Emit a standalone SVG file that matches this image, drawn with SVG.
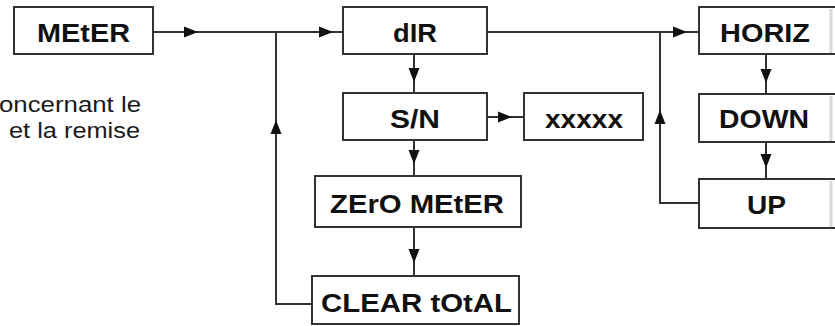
<svg xmlns="http://www.w3.org/2000/svg" xmlns:xlink="http://www.w3.org/1999/xlink" width="835" height="326" viewBox="0 0 835 326">
<style>
.box{fill:#fff;stroke:#333;stroke-width:2}
.lbl{font-family:"Liberation Sans",Arial,sans-serif;font-weight:bold;font-size:26px;fill:#111}
.side{font-family:"Liberation Sans",Arial,sans-serif;font-size:22px;fill:#1a1a1a}
.ln{fill:none;stroke:#333;stroke-width:2}
.ah{fill:#111}
.edge{stroke:#d8d8d8;stroke-width:3}
</style>
<defs>
<path id="ah" d="M0,0 L-14,-5.5 L-14,5.5 Z"/>
</defs>
<rect width="835" height="326" fill="#fff"/>
<text class="side" x="-1" y="112" textLength="142" lengthAdjust="spacingAndGlyphs">oncernant le</text>
<text class="side" x="9" y="138" textLength="131" lengthAdjust="spacingAndGlyphs">et la remise</text>
<g id="connectors">
<path class="ln" d="M153,32 H343"/>
<path class="ln" d="M312,304 H276 V32"/>
<path class="ln" d="M414,54 V93"/>
<path class="ln" d="M487,117 H524"/>
<path class="ln" d="M414,140 V176"/>
<path class="ln" d="M414,227 V276"/>
<path class="ln" d="M487,32 H699"/>
<path class="ln" d="M699,203 H660 V32"/>
<path class="ln" d="M766,54 V94"/>
<path class="ln" d="M766,142 V179"/>
<use class="ah" xlink:href="#ah" transform="translate(198,32)"/>
<use class="ah" xlink:href="#ah" transform="translate(333,32)"/>
<use class="ah" xlink:href="#ah" transform="translate(276,120) rotate(-90)"/>
<use class="ah" xlink:href="#ah" transform="translate(414,82) rotate(90)"/>
<use class="ah" xlink:href="#ah" transform="translate(512,117)"/>
<use class="ah" xlink:href="#ah" transform="translate(414,164) rotate(90)"/>
<use class="ah" xlink:href="#ah" transform="translate(414,263) rotate(90)"/>
<use class="ah" xlink:href="#ah" transform="translate(687,32)"/>
<use class="ah" xlink:href="#ah" transform="translate(660,110) rotate(-90)"/>
<use class="ah" xlink:href="#ah" transform="translate(766,83) rotate(90)"/>
<use class="ah" xlink:href="#ah" transform="translate(766,168) rotate(90)"/>
</g>
<g id="meter">
<rect class="box" x="14" y="7" width="139" height="47"/>
<text class="lbl" x="37" y="42" textLength="93" lengthAdjust="spacingAndGlyphs">MEtER</text>
</g>
<g id="dir">
<rect class="box" x="343" y="7" width="144" height="47"/>
<text class="lbl" x="393" y="42" textLength="44" lengthAdjust="spacingAndGlyphs">dIR</text>
</g>
<g id="sn">
<rect class="box" x="343" y="93" width="144" height="47"/>
<text class="lbl" x="390" y="128" textLength="50" lengthAdjust="spacingAndGlyphs">S/N</text>
</g>
<g id="xxxxx">
<rect class="box" x="524" y="93" width="119" height="47"/>
<text class="lbl" x="545" y="128" textLength="78" lengthAdjust="spacingAndGlyphs">xxxxx</text>
</g>
<g id="zero-meter">
<rect class="box" x="315" y="176" width="206" height="51"/>
<text class="lbl" x="330" y="213" textLength="174" lengthAdjust="spacingAndGlyphs">ZErO MEtER</text>
</g>
<g id="clear-total">
<rect class="box" x="312" y="276" width="207" height="48"/>
<text class="lbl" x="321" y="312" textLength="191" lengthAdjust="spacingAndGlyphs">CLEAR tOtAL</text>
</g>
<g id="horiz">
<rect class="box" x="699" y="7" width="150" height="47"/>
<line class="edge" x1="831" y1="9" x2="831" y2="53"/>
<text class="lbl" x="720" y="42" textLength="90" lengthAdjust="spacingAndGlyphs">HORIZ</text>
</g>
<g id="down">
<rect class="box" x="699" y="94" width="150" height="48"/>
<line class="edge" x1="831" y1="96" x2="831" y2="141"/>
<text class="lbl" x="719" y="128" textLength="90" lengthAdjust="spacingAndGlyphs">DOWN</text>
</g>
<g id="up">
<rect class="box" x="699" y="179" width="150" height="49"/>
<line class="edge" x1="831" y1="181" x2="831" y2="227"/>
<text class="lbl" x="747" y="214" textLength="39" lengthAdjust="spacingAndGlyphs">UP</text>
</g>
</svg>
